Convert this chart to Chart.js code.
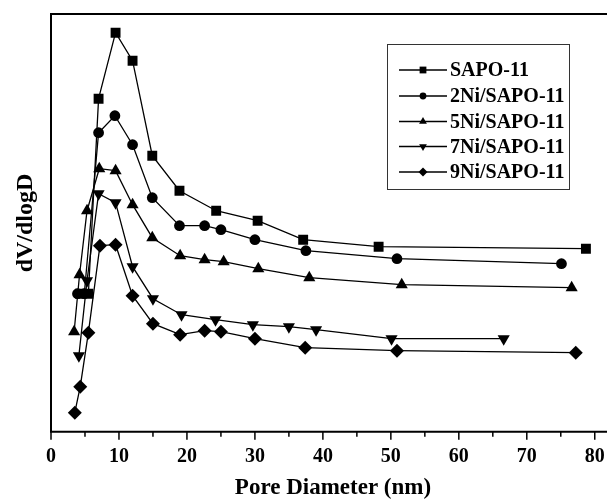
<!DOCTYPE html>
<html>
<head>
<meta charset="utf-8">
<script src="https://cdn.jsdelivr.net/npm/chart.js@4.4.1/dist/chart.umd.min.js"></script>
<style>
    html, body { margin: 0; padding: 0; background: #fff; }
    canvas { display: block; }
</style>
</head>
<body>
<canvas id="poreChart" width="614" height="499"></canvas>
<script>
// Pore size distribution data (arbitrary dV/dlogD units)
const seriesNames = ['SAPO-11', '2Ni/SAPO-11', '5Ni/SAPO-11', '7Ni/SAPO-11', '9Ni/SAPO-11'];

const sapoX = [4.3, 5.5, 7.0, 9.5, 12.0, 14.9, 18.9, 24.3, 30.4, 37.1, 48.2, 78.7];
const sapoY = [138, 138, 333, 399, 371, 276, 241, 221, 211, 192, 185, 183];

const ni2X = [3.9, 4.9, 7.0, 9.4, 12.0, 14.9, 18.9, 22.6, 25.0, 30.0, 37.5, 50.9, 75.1];
const ni2Y = [138, 138, 299, 316, 287, 234, 206, 206, 202, 192, 181, 173, 168];

const ni5X = [3.4, 4.2, 5.3, 7.1, 9.5, 12.0, 14.9, 19.0, 22.6, 25.4, 30.5, 38.0, 51.6, 76.6];
const ni5Y = [100, 157, 221, 263, 261, 227, 194, 176, 172, 170, 163, 154, 147, 144];

const ni7X = [4.1, 5.3, 7.0, 9.5, 12.0, 15.0, 19.2, 24.2, 29.7, 35.0, 39.0, 50.1, 66.6];
const ni7Y = [76, 151, 238, 229, 165, 133, 117, 112, 107, 105, 102, 93, 93];

const ni9X = [3.5, 4.3, 5.5, 7.2, 9.5, 12.0, 15.0, 19.0, 22.6, 25.0, 30.0, 37.4, 50.9, 77.2];
const ni9Y = [19, 45, 99, 186, 187, 136, 108, 97, 101, 100, 93, 84, 81, 79];

const xTickLabels = [0, 10, 20, 30, 40, 50, 60, 70, 80];

const serif = '"Liberation Serif", "Times New Roman", serif';

function toPoints(xs, ys) {
    return xs.map((x, i) => ({ x: x, y: ys[i] }));
}

function makeSet(i, xs, ys, style, radius, rotation) {
    return {
        label: seriesNames[i],
        data: toPoints(xs, ys),
        borderColor: '#000',
        backgroundColor: '#000',
        borderWidth: 1.3,
        pointStyle: style,
        pointRadius: radius,
        pointRotation: rotation || 0,
        pointBorderWidth: 0,
        pointBackgroundColor: '#000',
        tension: 0
    };
}

// axes, ticks, titles and legend drawn on top
const frame = {
    id: 'frame',
    afterDraw(chart) {
        const ctx = chart.ctx;
        const area = chart.chartArea;
        const xs = chart.scales.x;
        ctx.save();
        ctx.strokeStyle = '#000';
        ctx.lineWidth = 2;
        ctx.beginPath();
        ctx.moveTo(area.right, area.top);
        ctx.lineTo(area.left, area.top);
        ctx.lineTo(area.left, area.bottom);
        ctx.lineTo(area.right, area.bottom);
        ctx.stroke();

        // x ticks: major every 10, minor every 5
        ctx.lineWidth = 1.5;
        for (let v = 0; v <= 80; v += 5) {
            const px = xs.getPixelForValue(v);
            const len = v % 10 === 0 ? 8 : 5;
            ctx.beginPath();
            ctx.moveTo(px, area.bottom);
            ctx.lineTo(px, area.bottom + len);
            ctx.stroke();
        }

        ctx.fillStyle = '#000';
        ctx.textAlign = 'center';
        ctx.textBaseline = 'middle';
        ctx.font = 'bold 20px ' + serif;
        xTickLabels.forEach(v => {
            ctx.fillText(String(v), xs.getPixelForValue(v), 457);
        });

        ctx.font = 'bold 23px ' + serif;
        ctx.fillText('Pore Diameter (nm)', 333, 488);

        ctx.save();
        ctx.translate(26, 223);
        ctx.rotate(-Math.PI / 2);
        ctx.font = 'bold 24px ' + serif;
        ctx.fillText('dV/dlogD', 0, 0);
        ctx.restore();

        // legend
        ctx.lineWidth = 1;
        ctx.strokeStyle = '#333';
        ctx.strokeRect(387.5, 44.5, 182, 145);
        const rows = [70, 96, 121.5, 146.5, 172];
        const legendR = [4.8, 3.4, 4.5, 4.5, 4.5];
        ctx.textAlign = 'left';
        ctx.font = 'bold 20px ' + serif;
        chart.data.datasets.forEach((ds, i) => {
            const y = rows[i];
            ctx.strokeStyle = '#000';
            ctx.lineWidth = 1.5;
            ctx.beginPath();
            ctx.moveTo(399, y);
            ctx.lineTo(447, y);
            ctx.stroke();
            ctx.fillStyle = '#000';
            Chart.helpers.drawPoint(ctx, {
                pointStyle: ds.pointStyle,
                radius: legendR[i],
                rotation: ds.pointRotation,
                borderWidth: 0
            }, 423, y);
            ctx.fillStyle = '#000';
            ctx.fillText(ds.label, 450, y + 1);
        });
        ctx.restore();
    }
};

const poreChart = new Chart(document.getElementById('poreChart'), {
    type: 'line',
    data: {
        datasets: [
            makeSet(0, sapoX, sapoY, 'rect', 7),
            makeSet(1, ni2X, ni2Y, 'circle', 5.4),
            makeSet(2, ni5X, ni5Y, 'triangle', 7),
            makeSet(3, ni7X, ni7Y, 'triangle', 7, 180),
            makeSet(4, ni9X, ni9Y, 'rectRot', 7)
        ]
    },
    options: {
        responsive: false,
        devicePixelRatio: 1,
        animation: false,
        layout: { padding: { left: 51, top: 14, right: 0, bottom: 0 } },
        plugins: {
            legend: { display: false },
            tooltip: { enabled: false }
        },
        scales: {
            x: {
                type: 'linear',
                min: 0,
                max: 81.8,
                grid: { display: false },
                border: { display: false },
                ticks: { display: false },
                afterFit(scale) { scale.height = 67.3; }
            },
            y: {
                display: false,
                min: 0,
                max: 417.7
            }
        }
    },
    plugins: [frame]
});
</script>
</body>
</html>
